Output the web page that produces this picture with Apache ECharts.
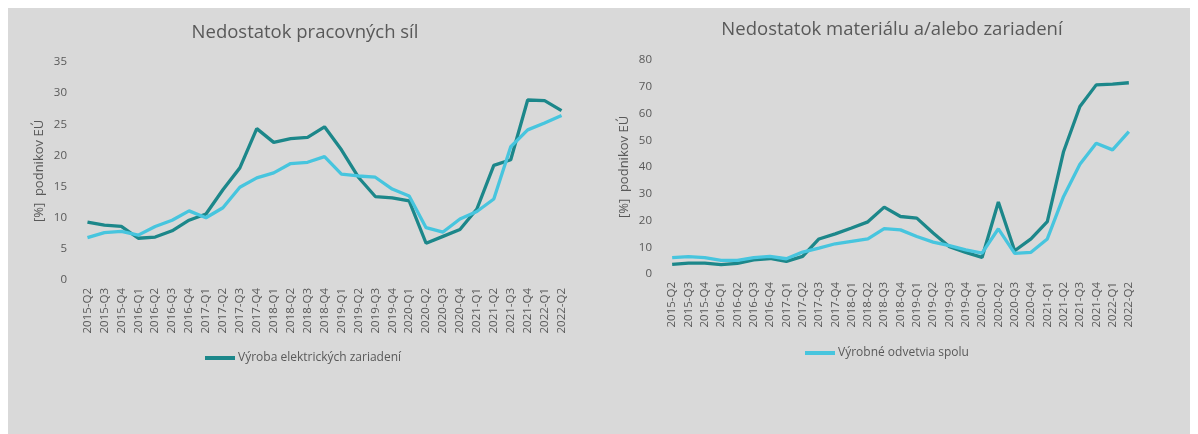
<!DOCTYPE html>
<html>
<head>
<meta charset="utf-8">
<script src="https://cdn.jsdelivr.net/npm/echarts@6/dist/echarts.min.js"></script>
<style>
  html, body { margin: 0; padding: 0; background: #ffffff; }
  #panel { position: absolute; left: 8px; top: 8px; width: 1182px; height: 426px; background: #d9d9d9; }
  #chart { position: absolute; left: 0; top: 0; width: 1198px; height: 434px; }
</style>
</head>
<body>
<div id="panel"></div>
<div id="chart"></div>
<script>
// Quarters 2015-Q2 .. 2022-Q2
const quarters = [
  '2015-Q2','2015-Q3','2015-Q4',
  '2016-Q1','2016-Q2','2016-Q3','2016-Q4',
  '2017-Q1','2017-Q2','2017-Q3','2017-Q4',
  '2018-Q1','2018-Q2','2018-Q3','2018-Q4',
  '2019-Q1','2019-Q2','2019-Q3','2019-Q4',
  '2020-Q1','2020-Q2','2020-Q3','2020-Q4',
  '2021-Q1','2021-Q2','2021-Q3','2021-Q4',
  '2022-Q1','2022-Q2'
];

const seriesElectrical = 'Výroba elektrických zariadení';
const seriesManufacturing = 'Výrobné odvetvia spolu';

// Labour shortage (% of EU firms)
const labourElectrical = [
  9.3, 8.8, 8.6, 6.7, 6.9, 7.9, 9.6, 10.6, 14.5, 18.0, 24.3, 22.1, 22.7, 22.9, 24.6,
  20.9, 16.5, 13.4, 13.2, 12.7, 5.9, 7.0, 8.1, 11.4, 18.4, 19.3, 28.9, 28.8, 27.2
];
const labourManufacturing = [
  6.8, 7.6, 7.8, 7.2, 8.6, 9.6, 11.1, 10.0, 11.6, 14.9, 16.4, 17.2, 18.7, 18.9, 19.8,
  17.0, 16.7, 16.5, 14.6, 13.5, 8.4, 7.7, 9.8, 11.0, 13.0, 21.4, 24.1, 25.2, 26.4
];

// Shortage of material and/or equipment (% of EU firms)
const materialElectrical = [
  3.6, 4.1, 4.1, 3.5, 4.0, 5.3, 5.8, 4.7, 6.6, 13.1, 15.0, 17.2, 19.5, 25.0, 21.5,
  20.9, 15.3, 10.2, 8.1, 6.2, 26.9, 8.7, 13.1, 19.6, 45.8, 62.6, 70.7, 71.0, 71.5
];
const materialManufacturing = [
  6.1, 6.5, 6.1, 5.1, 5.1, 6.1, 6.6, 5.7, 8.2, 9.7, 11.3, 12.2, 13.1, 17.0, 16.5,
  14.0, 11.9, 10.6, 9.0, 7.8, 16.9, 7.7, 8.1, 13.1, 29.0, 41.0, 48.9, 46.4, 53.2
];

const leftTicks = { min: 0, max: 35, interval: 5 };
const rightTicks = { min: 0, max: 80, interval: 10 };

const DARK = '#1c878a';
const LIGHT = '#47c5de';
const TEXT = '#595959';
const FONT = '"Open Sans", "Noto Sans", sans-serif';

const chart = echarts.init(document.getElementById('chart'), null, { renderer: 'canvas' });

function xAxis(gridIndex) {
  return {
    type: 'category',
    gridIndex,
    data: quarters,
    boundaryGap: true,
    axisLine: { show: false },
    axisTick: { show: false },
    axisLabel: {
      rotate: 90,
      interval: 0,
      margin: 8,
      color: TEXT,
      fontSize: 11.5,
      fontFamily: FONT
    }
  };
}

function yAxis(gridIndex, ticks, gap) {
  return {
    type: 'value',
    gridIndex,
    min: ticks.min,
    max: ticks.max,
    interval: ticks.interval,
    name: '[%]  podnikov EÚ',
    nameLocation: 'middle',
    nameGap: gap,
    nameRotate: 90,
    nameTextStyle: { color: TEXT, fontSize: 13, fontFamily: FONT },
    axisLine: { show: false },
    axisTick: { show: false },
    splitLine: { show: false },
    axisLabel: { color: TEXT, fontSize: 11.5, fontFamily: FONT, margin: 12 }
  };
}

function line(name, data, color, idx) {
  return {
    name,
    type: 'line',
    xAxisIndex: idx,
    yAxisIndex: idx,
    data,
    symbol: 'none',
    smooth: false,
    lineStyle: { color, width: 3.3 },
    itemStyle: { color },
    z: color === DARK ? 2 : 3
  };
}

function legend(name, left, top) {
  return {
    data: [name],
    left, top,
    padding: 0,
    itemWidth: 30, itemHeight: 4, itemGap: 4,
    icon: 'rect',
    textStyle: { color: TEXT, fontSize: 12, fontFamily: FONT, padding: [0, 0, 0, -2] }
  };
}

chart.setOption({
  animation: false,
  textStyle: { fontFamily: FONT },
  title: [
    {
      text: 'Nedostatok pracovných síl',
      left: 300, top: 18, textAlign: 'center',
      textStyle: { color: TEXT, fontSize: 18.5, fontWeight: 'normal', fontFamily: FONT }
    },
    {
      text: 'Nedostatok materiálu a/alebo zariadení',
      left: 887, top: 15, textAlign: 'center',
      textStyle: { color: TEXT, fontSize: 18.5, fontWeight: 'normal', fontFamily: FONT }
    }
  ],
  legend: [
    legend(seriesElectrical, 205, 352),
    legend(seriesManufacturing, 805, 347)
  ],
  grid: [
    { left: 79, top: 62, width: 491, height: 218 },
    { left: 664, top: 60, width: 473, height: 214 }
  ],
  xAxis: [xAxis(0), xAxis(1)],
  yAxis: [yAxis(0, leftTicks, 33), yAxis(1, rightTicks, 33)],
  series: [
    line(seriesElectrical, labourElectrical, DARK, 0),
    line(seriesManufacturing, labourManufacturing, LIGHT, 0),
    line(seriesElectrical, materialElectrical, DARK, 1),
    line(seriesManufacturing, materialManufacturing, LIGHT, 1)
  ]
});
</script>
</body>
</html>
